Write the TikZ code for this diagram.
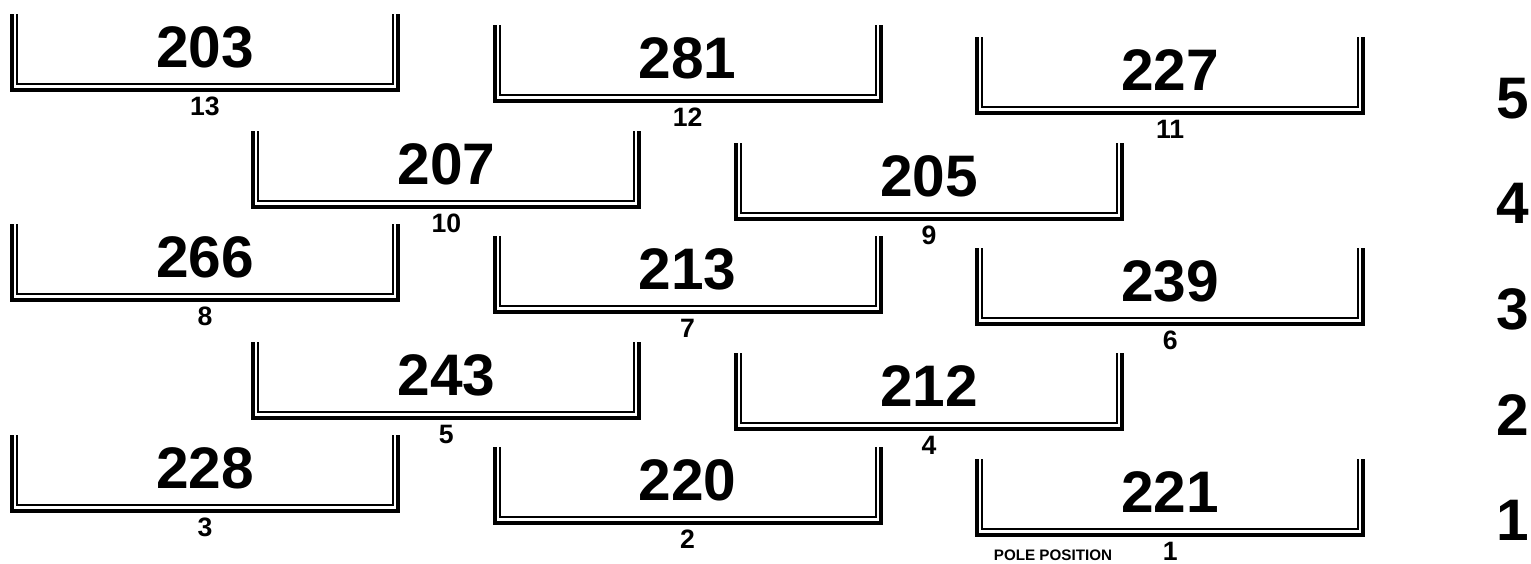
\documentclass[tikz,border=0pt]{standalone}
\usepackage{fontspec}
\setmainfont{Liberation Sans}
\begin{document}
\begin{tikzpicture}[x=0.5pt,y=-0.5pt,
  outer/.style={line width=2pt},
  inner/.style={line width=1pt},
  car/.style={inner sep=0pt,anchor=base,font=\fontsize{29.3}{30}\selectfont\bfseries},
  slot/.style={inner sep=0pt,anchor=base,font=\fontsize{13.3}{14}\selectfont\bfseries},
  rowlab/.style={inner sep=0pt,anchor=base,font=\fontsize{29.3}{30}\selectfont\bfseries}]

  \useasboundingbox (0,0) rectangle (1531,563);

  % Grid boxes: column/top/car number/grid slot
  \foreach \k/\t/\car/\pos in {0/14/203/13, 2/25/281/12, 4/37/227/11,
      1/131/207/10, 3/143/205/9,
      0/224/266/8, 2/236/213/7, 4/248/239/6,
      1/342/243/5, 3/353/212/4,
      0/435/228/3, 2/447/220/2, 4/459/221/1}{
    \pgfmathsetmacro\xl{12+241.3*\k}
    \draw[outer] (\xl,\t) -- (\xl,\t+76) -- (\xl+386,\t+76) -- (\xl+386,\t);
    \draw[inner] (\xl+5,\t) -- (\xl+5,\t+70) -- (\xl+381,\t+70) -- (\xl+381,\t);
    \node[car] (car\pos) at (\xl+193,\t+53) {\car};
    \node[slot] (slot\pos) at (\xl+193,\t+101) {\pos};
  }

  % Row numbers
  \foreach \r/\yb in {5/118, 4/223, 3/329, 2/435, 1/540}{
    \node[rowlab] (row\r) at (1513,\yb) {\r};
  }

  % Pole
  \node[inner sep=0pt,anchor=base,font=\fontsize{7.6}{8}\selectfont\bfseries]
    (pole) at (1053,560) {POLE POSITION};

\end{tikzpicture}
\end{document}
